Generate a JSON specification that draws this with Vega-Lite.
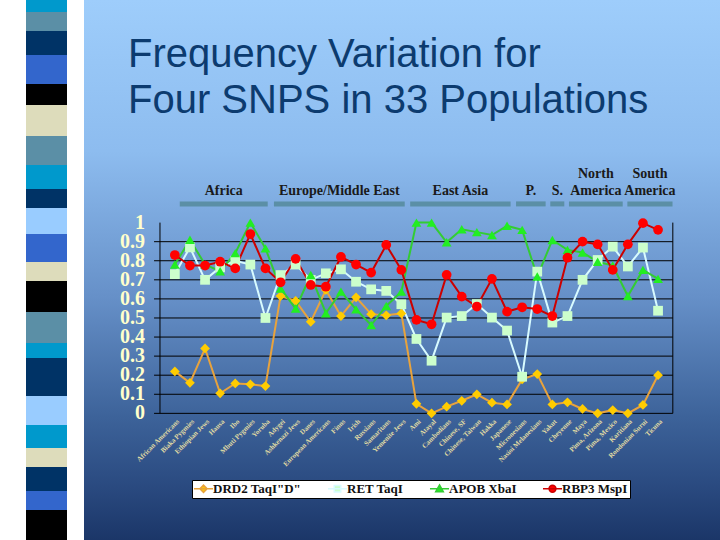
{
  "$schema": "https://vega.github.io/schema/vega-lite/v6.json",
  "background": "white",
  "padding": {"left": 26, "top": 0, "right": 0, "bottom": 0},
  "spacing": 17,
  "config": {"view": {"stroke": null}},
  "resolve": {"scale": {"color": "independent"}, "legend": {"color": "independent"}},
  "datasets": {
    "strip": [
      {"seg": 1, "h": 12, "tone": "cyan"}, {"seg": 2, "h": 19, "tone": "steel"}, {"seg": 3, "h": 24, "tone": "navy"},
      {"seg": 4, "h": 29, "tone": "royal"}, {"seg": 5, "h": 21, "tone": "black"}, {"seg": 6, "h": 31, "tone": "beige"},
      {"seg": 7, "h": 29, "tone": "steel"}, {"seg": 8, "h": 24, "tone": "cyan"}, {"seg": 9, "h": 19, "tone": "navy"},
      {"seg": 10, "h": 26, "tone": "sky"}, {"seg": 11, "h": 28, "tone": "royal"}, {"seg": 12, "h": 19, "tone": "beige"},
      {"seg": 13, "h": 31, "tone": "black"}, {"seg": 14, "h": 31, "tone": "steel"}, {"seg": 15, "h": 15, "tone": "cyan"},
      {"seg": 16, "h": 38, "tone": "navy"}, {"seg": 17, "h": 29, "tone": "sky"}, {"seg": 18, "h": 23, "tone": "cyan"},
      {"seg": 19, "h": 19, "tone": "beige"}, {"seg": 20, "h": 24, "tone": "navy"}, {"seg": 21, "h": 19, "tone": "royal"},
      {"seg": 22, "h": 30, "tone": "black"}
    ],
    "regions": [
      {"region": "Africa", "upper": "", "lower": "Africa", "from": 0.8, "to": 6.45},
      {"region": "Europe/Middle East", "upper": "", "lower": "Europe/Middle East", "from": 6.85, "to": 15.25},
      {"region": "East Asia", "upper": "", "lower": "East Asia", "from": 15.6, "to": 22.05},
      {"region": "P.", "upper": "", "lower": "P.", "from": 22.4, "to": 24.3},
      {"region": "S.", "upper": "", "lower": "S.", "from": 24.6, "to": 25.5},
      {"region": "North America", "upper": "North", "lower": "America", "from": 25.8, "to": 29.25},
      {"region": "South America", "upper": "South", "lower": "America", "from": 29.55, "to": 32.45}
    ],
    "yticks": [{"v": 0}, {"v": 0.1}, {"v": 0.2}, {"v": 0.3}, {"v": 0.4}, {"v": 0.5}, {"v": 0.6}, {"v": 0.7}, {"v": 0.8}, {"v": 0.9}, {"v": 1}],
    "gridvals": [{"g": 0}, {"g": 0.1}, {"g": 0.2}, {"g": 0.3}, {"g": 0.4}, {"g": 0.5}, {"g": 0.6}, {"g": 0.7}, {"g": 0.8}, {"g": 0.9}],
    "freq": [
      {"pop": "African Americans", "snp": "DRD2 TaqI\"D\"", "f": 0.22},
      {"pop": "Biaka Pygmies", "snp": "DRD2 TaqI\"D\"", "f": 0.16},
      {"pop": "Ethiopian Jews", "snp": "DRD2 TaqI\"D\"", "f": 0.34},
      {"pop": "Hausa", "snp": "DRD2 TaqI\"D\"", "f": 0.105},
      {"pop": "Ibo", "snp": "DRD2 TaqI\"D\"", "f": 0.157},
      {"pop": "Mbuti Pygmies", "snp": "DRD2 TaqI\"D\"", "f": 0.152},
      {"pop": "Yoruba", "snp": "DRD2 TaqI\"D\"", "f": 0.143},
      {"pop": "Adygei", "snp": "DRD2 TaqI\"D\"", "f": 0.615},
      {"pop": "Ashkenazi Jews", "snp": "DRD2 TaqI\"D\"", "f": 0.59},
      {"pop": "Danes", "snp": "DRD2 TaqI\"D\"", "f": 0.48},
      {"pop": "European Americans", "snp": "DRD2 TaqI\"D\"", "f": 0.647},
      {"pop": "Finns", "snp": "DRD2 TaqI\"D\"", "f": 0.51},
      {"pop": "Irish", "snp": "DRD2 TaqI\"D\"", "f": 0.608},
      {"pop": "Russians", "snp": "DRD2 TaqI\"D\"", "f": 0.52},
      {"pop": "Samaritans", "snp": "DRD2 TaqI\"D\"", "f": 0.514},
      {"pop": "Yemenite Jews", "snp": "DRD2 TaqI\"D\"", "f": 0.524},
      {"pop": "Ami", "snp": "DRD2 TaqI\"D\"", "f": 0.05},
      {"pop": "Atayal", "snp": "DRD2 TaqI\"D\"", "f": 0.0},
      {"pop": "Cambodians", "snp": "DRD2 TaqI\"D\"", "f": 0.035},
      {"pop": "Chinese, SF", "snp": "DRD2 TaqI\"D\"", "f": 0.066},
      {"pop": "Chinese, Taiwan", "snp": "DRD2 TaqI\"D\"", "f": 0.10},
      {"pop": "Hakka", "snp": "DRD2 TaqI\"D\"", "f": 0.056},
      {"pop": "Japanese", "snp": "DRD2 TaqI\"D\"", "f": 0.047},
      {"pop": "Micronesians", "snp": "DRD2 TaqI\"D\"", "f": 0.178},
      {"pop": "Nasioi Melanesians", "snp": "DRD2 TaqI\"D\"", "f": 0.206},
      {"pop": "Yakut", "snp": "DRD2 TaqI\"D\"", "f": 0.047},
      {"pop": "Cheyenne", "snp": "DRD2 TaqI\"D\"", "f": 0.058},
      {"pop": "Maya", "snp": "DRD2 TaqI\"D\"", "f": 0.023},
      {"pop": "Pima, Arizona", "snp": "DRD2 TaqI\"D\"", "f": 0.0},
      {"pop": "Pima, Mexico", "snp": "DRD2 TaqI\"D\"", "f": 0.017},
      {"pop": "Karitiana", "snp": "DRD2 TaqI\"D\"", "f": 0.0},
      {"pop": "Rondonian Surui", "snp": "DRD2 TaqI\"D\"", "f": 0.044},
      {"pop": "Ticuna", "snp": "DRD2 TaqI\"D\"", "f": 0.20},
      {"pop": "African Americans", "snp": "RET TaqI", "f": 0.73},
      {"pop": "Biaka Pygmies", "snp": "RET TaqI", "f": 0.87},
      {"pop": "Ethiopian Jews", "snp": "RET TaqI", "f": 0.70},
      {"pop": "Hausa", "snp": "RET TaqI", "f": 0.765},
      {"pop": "Ibo", "snp": "RET TaqI", "f": 0.80},
      {"pop": "Mbuti Pygmies", "snp": "RET TaqI", "f": 0.78},
      {"pop": "Yoruba", "snp": "RET TaqI", "f": 0.50},
      {"pop": "Adygei", "snp": "RET TaqI", "f": 0.725},
      {"pop": "Ashkenazi Jews", "snp": "RET TaqI", "f": 0.78},
      {"pop": "Danes", "snp": "RET TaqI", "f": 0.70},
      {"pop": "European Americans", "snp": "RET TaqI", "f": 0.734},
      {"pop": "Finns", "snp": "RET TaqI", "f": 0.755},
      {"pop": "Irish", "snp": "RET TaqI", "f": 0.69},
      {"pop": "Russians", "snp": "RET TaqI", "f": 0.65},
      {"pop": "Samaritans", "snp": "RET TaqI", "f": 0.642},
      {"pop": "Yemenite Jews", "snp": "RET TaqI", "f": 0.572},
      {"pop": "Ami", "snp": "RET TaqI", "f": 0.39},
      {"pop": "Atayal", "snp": "RET TaqI", "f": 0.276},
      {"pop": "Cambodians", "snp": "RET TaqI", "f": 0.502},
      {"pop": "Chinese, SF", "snp": "RET TaqI", "f": 0.51},
      {"pop": "Chinese, Taiwan", "snp": "RET TaqI", "f": 0.573},
      {"pop": "Hakka", "snp": "RET TaqI", "f": 0.502},
      {"pop": "Japanese", "snp": "RET TaqI", "f": 0.434},
      {"pop": "Micronesians", "snp": "RET TaqI", "f": 0.192},
      {"pop": "Nasioi Melanesians", "snp": "RET TaqI", "f": 0.743},
      {"pop": "Yakut", "snp": "RET TaqI", "f": 0.476},
      {"pop": "Cheyenne", "snp": "RET TaqI", "f": 0.51},
      {"pop": "Maya", "snp": "RET TaqI", "f": 0.70},
      {"pop": "Pima, Arizona", "snp": "RET TaqI", "f": 0.804},
      {"pop": "Pima, Mexico", "snp": "RET TaqI", "f": 0.874},
      {"pop": "Karitiana", "snp": "RET TaqI", "f": 0.77},
      {"pop": "Rondonian Surui", "snp": "RET TaqI", "f": 0.869},
      {"pop": "Ticuna", "snp": "RET TaqI", "f": 0.538},
      {"pop": "African Americans", "snp": "APOB XbaI", "f": 0.78},
      {"pop": "Biaka Pygmies", "snp": "APOB XbaI", "f": 0.91},
      {"pop": "Ethiopian Jews", "snp": "APOB XbaI", "f": 0.78},
      {"pop": "Hausa", "snp": "APOB XbaI", "f": 0.745},
      {"pop": "Ibo", "snp": "APOB XbaI", "f": 0.84},
      {"pop": "Mbuti Pygmies", "snp": "APOB XbaI", "f": 1.0},
      {"pop": "Yoruba", "snp": "APOB XbaI", "f": 0.865},
      {"pop": "Adygei", "snp": "APOB XbaI", "f": 0.655},
      {"pop": "Ashkenazi Jews", "snp": "APOB XbaI", "f": 0.55},
      {"pop": "Danes", "snp": "APOB XbaI", "f": 0.725},
      {"pop": "European Americans", "snp": "APOB XbaI", "f": 0.525},
      {"pop": "Finns", "snp": "APOB XbaI", "f": 0.638},
      {"pop": "Irish", "snp": "APOB XbaI", "f": 0.545},
      {"pop": "Russians", "snp": "APOB XbaI", "f": 0.463},
      {"pop": "Samaritans", "snp": "APOB XbaI", "f": 0.563},
      {"pop": "Yemenite Jews", "snp": "APOB XbaI", "f": 0.638},
      {"pop": "Ami", "snp": "APOB XbaI", "f": 1.0},
      {"pop": "Atayal", "snp": "APOB XbaI", "f": 1.0},
      {"pop": "Cambodians", "snp": "APOB XbaI", "f": 0.897},
      {"pop": "Chinese, SF", "snp": "APOB XbaI", "f": 0.965},
      {"pop": "Chinese, Taiwan", "snp": "APOB XbaI", "f": 0.95},
      {"pop": "Hakka", "snp": "APOB XbaI", "f": 0.935},
      {"pop": "Japanese", "snp": "APOB XbaI", "f": 0.983},
      {"pop": "Micronesians", "snp": "APOB XbaI", "f": 0.962},
      {"pop": "Nasioi Melanesians", "snp": "APOB XbaI", "f": 0.717},
      {"pop": "Yakut", "snp": "APOB XbaI", "f": 0.909},
      {"pop": "Cheyenne", "snp": "APOB XbaI", "f": 0.857},
      {"pop": "Maya", "snp": "APOB XbaI", "f": 0.843},
      {"pop": "Pima, Arizona", "snp": "APOB XbaI", "f": 0.795},
      {"pop": "Pima, Mexico", "snp": "APOB XbaI", "f": 0.775},
      {"pop": "Karitiana", "snp": "APOB XbaI", "f": 0.615},
      {"pop": "Rondonian Surui", "snp": "APOB XbaI", "f": 0.752},
      {"pop": "Ticuna", "snp": "APOB XbaI", "f": 0.705},
      {"pop": "African Americans", "snp": "RBP3 MspI", "f": 0.83},
      {"pop": "Biaka Pygmies", "snp": "RBP3 MspI", "f": 0.775},
      {"pop": "Ethiopian Jews", "snp": "RBP3 MspI", "f": 0.775},
      {"pop": "Hausa", "snp": "RBP3 MspI", "f": 0.795},
      {"pop": "Ibo", "snp": "RBP3 MspI", "f": 0.76},
      {"pop": "Mbuti Pygmies", "snp": "RBP3 MspI", "f": 0.94},
      {"pop": "Yoruba", "snp": "RBP3 MspI", "f": 0.76},
      {"pop": "Adygei", "snp": "RBP3 MspI", "f": 0.687},
      {"pop": "Ashkenazi Jews", "snp": "RBP3 MspI", "f": 0.81},
      {"pop": "Danes", "snp": "RBP3 MspI", "f": 0.673},
      {"pop": "European Americans", "snp": "RBP3 MspI", "f": 0.664},
      {"pop": "Finns", "snp": "RBP3 MspI", "f": 0.82},
      {"pop": "Irish", "snp": "RBP3 MspI", "f": 0.78},
      {"pop": "Russians", "snp": "RBP3 MspI", "f": 0.738},
      {"pop": "Samaritans", "snp": "RBP3 MspI", "f": 0.883},
      {"pop": "Yemenite Jews", "snp": "RBP3 MspI", "f": 0.752},
      {"pop": "Ami", "snp": "RBP3 MspI", "f": 0.49},
      {"pop": "Atayal", "snp": "RBP3 MspI", "f": 0.467},
      {"pop": "Cambodians", "snp": "RBP3 MspI", "f": 0.726},
      {"pop": "Chinese, SF", "snp": "RBP3 MspI", "f": 0.612},
      {"pop": "Chinese, Taiwan", "snp": "RBP3 MspI", "f": 0.56},
      {"pop": "Hakka", "snp": "RBP3 MspI", "f": 0.705},
      {"pop": "Japanese", "snp": "RBP3 MspI", "f": 0.533},
      {"pop": "Micronesians", "snp": "RBP3 MspI", "f": 0.556},
      {"pop": "Nasioi Melanesians", "snp": "RBP3 MspI", "f": 0.547},
      {"pop": "Yakut", "snp": "RBP3 MspI", "f": 0.51},
      {"pop": "Cheyenne", "snp": "RBP3 MspI", "f": 0.816},
      {"pop": "Maya", "snp": "RBP3 MspI", "f": 0.90},
      {"pop": "Pima, Arizona", "snp": "RBP3 MspI", "f": 0.886},
      {"pop": "Pima, Mexico", "snp": "RBP3 MspI", "f": 0.752},
      {"pop": "Karitiana", "snp": "RBP3 MspI", "f": 0.886},
      {"pop": "Rondonian Surui", "snp": "RBP3 MspI", "f": 0.997},
      {"pop": "Ticuna", "snp": "RBP3 MspI", "f": 0.962}
    ]
  },
  "hconcat": [
    {
      "width": 41,
      "height": 540,
      "data": {"name": "strip"},
      "transform": [
        {"stack": "h", "groupby": [], "sort": [{"field": "seg", "order": "ascending"}], "as": ["y0", "y1"]}
      ],
      "mark": {"type": "rect"},
      "encoding": {
        "x": {"datum": 0, "type": "quantitative", "scale": {"domain": [0, 1], "nice": false}, "axis": null},
        "x2": {"datum": 1},
        "y": {"field": "y0", "type": "quantitative", "scale": {"domain": [0, 540], "reverse": true, "nice": false, "zero": false}, "axis": null},
        "y2": {"field": "y1"},
        "color": {
          "field": "tone", "type": "nominal", "legend": null,
          "scale": {
            "domain": ["cyan", "steel", "navy", "royal", "black", "beige", "sky"],
            "range": ["#0099cc", "#5b8fa6", "#003366", "#3366cc", "#000000", "#dddcbb", "#99ccff"]
          }
        }
      }
    },
    {
      "width": 636,
      "height": 540,
      "view": {
        "stroke": null,
        "fill": {
          "gradient": "linear", "x1": 0, "y1": 0, "x2": 0, "y2": 1,
          "stops": [
            {"offset": 0, "color": "#9ecdfb"},
            {"offset": 0.28, "color": "#8dbcef"},
            {"offset": 0.55, "color": "#6690c8"},
            {"offset": 0.77, "color": "#3d639a"},
            {"offset": 0.9, "color": "#2a4a80"},
            {"offset": 1, "color": "#1b3668"}
          ]
        }
      },
      "title": {
        "text": ["Frequency Variation for", "Four SNPS in 33 Populations"],
        "anchor": "start",
        "frame": "group",
        "orient": "top",
        "offset": -121,
        "dx": 44,
        "font": "Liberation Sans",
        "fontSize": 40,
        "fontWeight": "normal",
        "color": "#0c3b6f",
        "lineHeight": 46
      },
      "resolve": {"scale": {"x": "independent"}, "axis": {"x": "independent"}},
      "layer": [
        {
          "data": {"name": "yticks"},
          "mark": {"type": "text", "font": "Liberation Serif", "fontWeight": "bold", "fontSize": 20, "color": "#ffffcc", "align": "right", "baseline": "middle", "dx": -15},
          "encoding": {
            "x": {"datum": -0.47, "type": "quantitative", "scale": {"domain": [-5.35, 35.5], "nice": false, "zero": false}, "axis": null},
            "y": {"field": "v", "type": "quantitative", "axis": null},
            "text": {"field": "v", "type": "quantitative", "format": ".1~f"}
          }
        },
        {
          "data": {"values": [{}]},
          "mark": {"type": "rule", "color": "#000000", "strokeWidth": 1},
          "encoding": {
            "x": {"datum": -0.47, "type": "quantitative", "scale": {"domain": [-5.35, 35.5], "nice": false, "zero": false}, "axis": null},
            "y": {"datum": 0, "type": "quantitative", "axis": null},
            "y2": {"datum": 1}
          }
        },
        {
          "data": {"values": [{}]},
          "mark": {"type": "rule", "color": "#000000", "strokeWidth": 1},
          "encoding": {
            "x": {"datum": 32.47, "type": "quantitative", "scale": {"domain": [-5.35, 35.5], "nice": false, "zero": false}, "axis": null},
            "y": {"datum": 0, "type": "quantitative", "axis": null},
            "y2": {"datum": 1}
          }
        },
        {
          "data": {"name": "regions"},
          "mark": {"type": "rule", "color": "#5b8fa6", "strokeWidth": 5},
          "encoding": {
            "x": {"field": "from", "type": "quantitative", "scale": {"domain": [-5.35, 35.5], "nice": false, "zero": false}, "axis": null},
            "x2": {"field": "to"},
            "y": {"datum": 1.098, "type": "quantitative", "axis": null}
          }
        },
        {
          "data": {"name": "regions"},
          "transform": [{"fold": ["from", "to"], "as": ["k", "xv"]}],
          "mark": {"type": "text", "font": "Liberation Serif", "fontWeight": "bold", "fontSize": 14, "color": "#1a1a1a", "baseline": "alphabetic", "align": "center"},
          "encoding": {
            "x": {"aggregate": "mean", "field": "xv", "type": "quantitative", "scale": {"domain": [-5.35, 35.5], "nice": false, "zero": false}, "axis": null},
            "y": {"datum": 1.1453, "type": "quantitative", "axis": null},
            "detail": {"field": "region", "type": "nominal"},
            "text": {"field": "lower", "type": "nominal"}
          }
        },
        {
          "data": {"name": "regions"},
          "transform": [{"fold": ["from", "to"], "as": ["k", "xv"]}],
          "mark": {"type": "text", "font": "Liberation Serif", "fontWeight": "bold", "fontSize": 14, "color": "#1a1a1a", "baseline": "alphabetic", "align": "center"},
          "encoding": {
            "x": {"aggregate": "mean", "field": "xv", "type": "quantitative", "scale": {"domain": [-5.35, 35.5], "nice": false, "zero": false}, "axis": null},
            "y": {"datum": 1.2345, "type": "quantitative", "axis": null},
            "detail": {"field": "region", "type": "nominal"},
            "text": {"field": "upper", "type": "nominal"}
          }
        },
        {
          "data": {"name": "gridvals"},
          "mark": {"type": "rule", "color": "#000000", "strokeWidth": 1},
          "encoding": {
            "x": {"datum": -0.85, "type": "quantitative", "scale": {"domain": [-5.35, 35.5], "nice": false, "zero": false}, "axis": null},
            "x2": {"datum": 32.47},
            "y": {"field": "g", "type": "quantitative", "axis": null}
          }
        },
        {
          "data": {"name": "freq"},
          "mark": {"type": "line", "strokeWidth": 2},
          "encoding": {
            "x": {
              "field": "pop", "type": "nominal", "sort": null,
              "scale": {
                "type": "point", "range": [83.3, 581.6],
                "domain": ["African Americans", "Biaka Pygmies", "Ethiopian Jews", "Hausa", "Ibo", "Mbuti Pygmies", "Yoruba", "Adygei", "Ashkenazi Jews", "Danes", "European Americans", "Finns", "Irish", "Russians", "Samaritans", "Yemenite Jews", "Ami", "Atayal", "Cambodians", "Chinese, SF", "Chinese, Taiwan", "Hakka", "Japanese", "Micronesians", "Nasioi Melanesians", "Yakut", "Cheyenne", "Maya", "Pima, Arizona", "Pima, Mexico", "Karitiana", "Rondonian Surui", "Ticuna"]
              },
              "axis": {
                "orient": "bottom", "offset": -126.7, "domain": false, "ticks": false, "grid": false,
                "labelAngle": -45, "labelAlign": "right", "labelBaseline": "top", "labelPadding": 4,
                "labelFont": "Liberation Serif", "labelFontWeight": "bold", "labelFontSize": 7,
                "labelColor": "#e0dca4", "labelOverlap": false, "labelLimit": 0, "title": null
              }
            },
            "y": {
              "field": "f", "type": "quantitative",
              "scale": {"domain": [-0.664, 2.167], "nice": false, "zero": false},
              "axis": null
            },
            "color": {
              "field": "snp", "type": "nominal",
              "scale": {
                "domain": ["DRD2 TaqI\"D\"", "RET TaqI", "APOB XbaI", "RBP3 MspI"],
                "range": ["#e8a33d", "#d8fbff", "#33cc33", "#cc0000"]
              },
              "legend": {
                "orient": "none", "legendX": 108, "legendY": 480, "direction": "horizontal",
                "title": null, "fillColor": "#ffffff", "strokeColor": "#000000", "padding": 2,
                "labelFont": "Liberation Serif", "labelFontWeight": "bold", "labelFontSize": 13,
                "labelColor": "#111111", "symbolType": "stroke", "symbolSize": 58,
                "symbolStrokeWidth": 1.5, "symbolOffset": 3, "labelOffset": 3, "columnPadding": 22,
                "encode": {
                  "symbols": {
                    "update": {
                      "shape": {"signal": "['M-2.5,0H2.5M-0.95,0L0,-0.95L0.95,0L0,0.95Z','M-2.5,0H2.5M-0.85,-0.85H0.85V0.85H-0.85Z','M-2.5,0H2.5M0,-1L1,0.8H-1Z','M-2.5,0H2.5M0.9,0A0.9,0.9,0,1,1,-0.9,0A0.9,0.9,0,1,1,0.9,0Z'][datum.index]"},
                      "fill": {"scale": "fill", "field": "value"},
                      "stroke": {"scale": "color", "field": "value"}
                    }
                  }
                }
              }
            }
          }
        },
        {
          "data": {"name": "freq"},
          "mark": {"type": "point", "filled": true, "size": 95, "opacity": 1, "strokeWidth": 0},
          "encoding": {
            "x": {
              "field": "pop", "type": "nominal", "sort": null, "axis": null,
              "scale": {
                "type": "point", "range": [83.3, 581.6],
                "domain": ["African Americans", "Biaka Pygmies", "Ethiopian Jews", "Hausa", "Ibo", "Mbuti Pygmies", "Yoruba", "Adygei", "Ashkenazi Jews", "Danes", "European Americans", "Finns", "Irish", "Russians", "Samaritans", "Yemenite Jews", "Ami", "Atayal", "Cambodians", "Chinese, SF", "Chinese, Taiwan", "Hakka", "Japanese", "Micronesians", "Nasioi Melanesians", "Yakut", "Cheyenne", "Maya", "Pima, Arizona", "Pima, Mexico", "Karitiana", "Rondonian Surui", "Ticuna"]
              }
            },
            "y": {"field": "f", "type": "quantitative", "axis": null},
            "fill": {
              "field": "snp", "type": "nominal", "legend": null,
              "scale": {
                "domain": ["DRD2 TaqI\"D\"", "RET TaqI", "APOB XbaI", "RBP3 MspI"],
                "range": ["#ffcc00", "#ccffcc", "#22ee22", "#ff0000"]
              }
            },
            "shape": {
              "field": "snp", "type": "nominal", "legend": null,
              "scale": {
                "domain": ["DRD2 TaqI\"D\"", "RET TaqI", "APOB XbaI", "RBP3 MspI"],
                "range": ["diamond", "square", "triangle-up", "circle"]
              }
            }
          }
        }
      ]
    }
  ]
}
